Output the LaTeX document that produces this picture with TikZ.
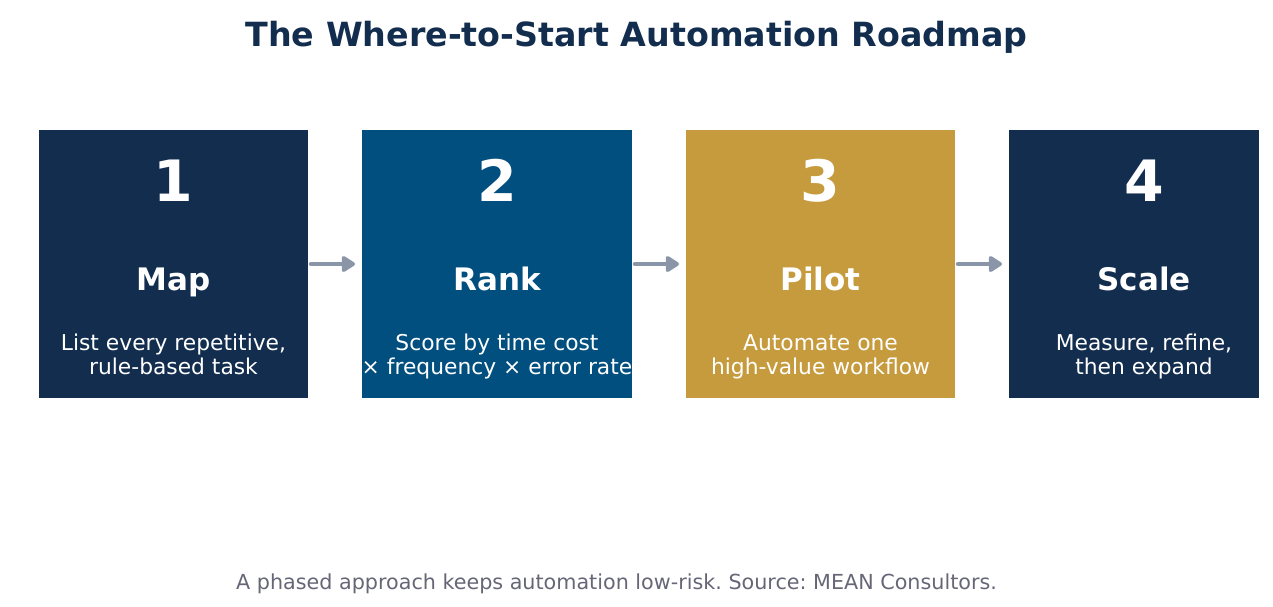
\documentclass[tikz,border=0pt]{standalone}
\usepackage{fontspec}
\setmainfont{DejaVu Sans}
\usepackage{xcolor}
\usetikzlibrary{arrows.meta}
\definecolor{navyColor}{HTML}{122D4E}
\definecolor{blueColor}{HTML}{004F7F}
\definecolor{goldColor}{HTML}{C69B3E}
\definecolor{arrowColor}{HTML}{8A96A8}
\definecolor{noteColor}{HTML}{666677}
\frenchspacing

\begin{document}
\begin{tikzpicture}[x=1pt, y=-1pt,
    stage/.style={minimum height=268pt, inner sep=0pt, outer sep=0pt, anchor=north west},
    num/.style={text=white, anchor=base, font=\bfseries\fontsize{57}{60}\selectfont},
    phase/.style={text=white, anchor=base, font=\bfseries\fontsize{31}{34}\selectfont},
    detail/.style={text=white, anchor=base, align=center, inner sep=0pt, font=\fontsize{21.8}{24}\selectfont},
    flow/.style={-{Triangle[length=15pt, width=18pt, round]}, line width=4.5pt, line cap=round,
        arrowColor, shorten <=3pt, shorten >=7pt}]
    \useasboundingbox (0,0) rectangle (1273,606);
    \node[navyColor, anchor=base, font=\bfseries\fontsize{33.3}{36}\selectfont] (title) at (636.5,46)
        {The Where-to-Start Automation Roadmap};
    \foreach \n/\xl/\w/\xc/\col/\name/\info in {
        1/39/269/173.5/navyColor/Map/{List every repetitive,\\rule-based task},
        2/362/270/497/blueColor/Rank/{Score by time cost\\× frequency × error rate},
        3/686/269/820.5/goldColor/Pilot/{Automate one\\high-value workflow},
        4/1009/250/1144/navyColor/Scale/{Measure, refine,\\then expand}} {
        \node[stage, fill=\col, minimum width=\w pt] (box\n) at (\xl,130) {};
        \node[num] (num\n) at (\xc,201) {\n};
        \node[phase] (phase\n) at (\xc,290) {\name};
        \node[detail] (info\n) at (\xc,374) {\info};
    }
    \foreach \a/\b in {1/2, 2/3, 3/4}
        \draw[flow] (box\a.east) -- (box\b.west);
    \node[noteColor, anchor=base, font=\fontsize{20.7}{24}\selectfont] (note) at (616.5,589)
        {A phased approach keeps automation low-risk. Source: MEAN Consultors.};
\end{tikzpicture}
\end{document}
